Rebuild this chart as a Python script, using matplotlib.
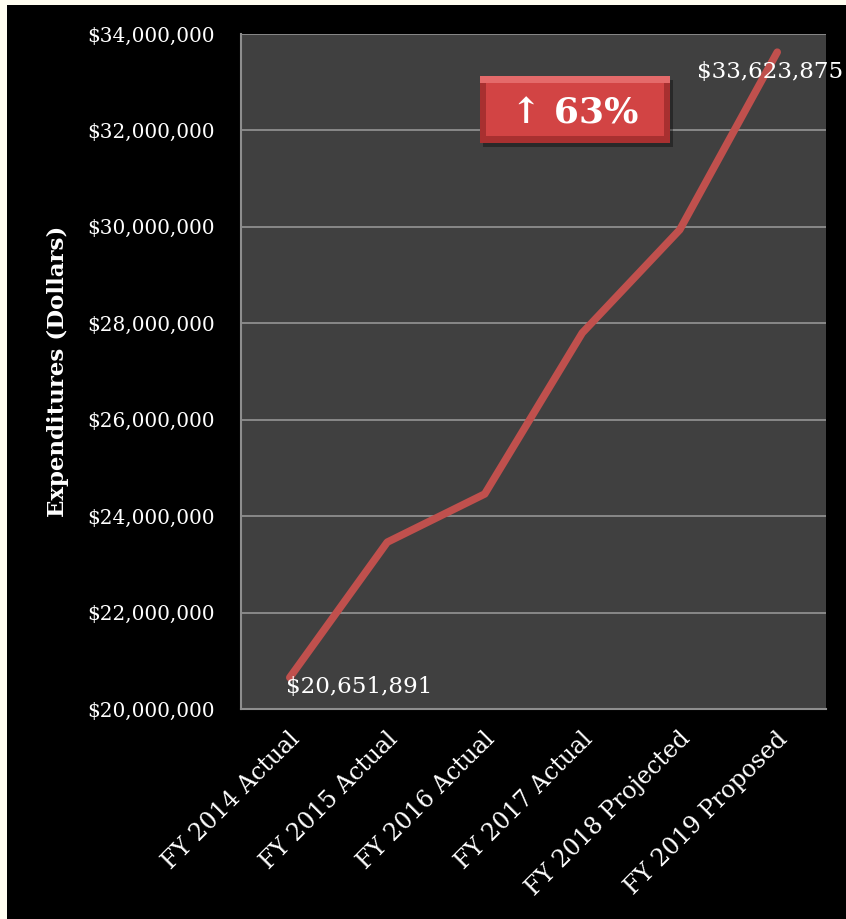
import matplotlib.pyplot as plt
from matplotlib.patches import Rectangle
from matplotlib.transforms import ScaledTranslation
from matplotlib.ticker import FuncFormatter

# spending by fiscal year
years = ["FY 2014 Actual", "FY 2015 Actual", "FY 2016 Actual",
         "FY 2017 Actual", "FY 2018 Projected", "FY 2019 Proposed"]
spend = [20651891, 23460000, 24460000, 27800000, 29940000, 33623875]
y_ticks = [20000000, 22000000, 24000000, 26000000, 28000000, 30000000, 32000000, 34000000]
badge_text = "\u2191 63%"

SERIF = ["DejaVu Serif"]


def main():
    fig = plt.figure(figsize=(8.46, 9.19), dpi=100, facecolor="#fffdf0")
    # black slide background with a thin cream margin top/left
    fig.patches.append(Rectangle((7 / 846, 0), 1 - 7 / 846, 1 - 5 / 919,
                                 transform=fig.transFigure, facecolor="black",
                                 edgecolor="none", zorder=-10))

    ax = fig.add_axes([241 / 846, 1 - 709 / 919, 585 / 846, 675 / 919])
    ax.set_facecolor("#404040")

    x = list(range(len(years)))
    ax.plot(x, spend, color="#c0504d", lw=5.4, solid_capstyle="round", zorder=3)

    ax.set_xlim(-0.5, len(years) - 0.5)
    ax.set_ylim(y_ticks[0], y_ticks[-1])
    ax.set_yticks(y_ticks)
    ax.yaxis.set_major_formatter(FuncFormatter(lambda v, p: f"${v:,.0f}"))
    ax.grid(axis="y", color="#8e8e8e", lw=1.3)
    ax.set_axisbelow(True)

    for side in ["top", "right"]:
        ax.spines[side].set_visible(False)
    for side in ["left", "bottom"]:
        ax.spines[side].set_color("#8e8e8e")
        ax.spines[side].set_linewidth(1.5)

    ax.tick_params(axis="y", length=0, pad=19, labelcolor="white", labelsize=14.4)
    ax.tick_params(axis="x", length=0, pad=19, labelcolor="white", labelsize=17)
    for lab in ax.get_yticklabels():
        lab.set_family(SERIF)

    ax.set_xticks(x)
    ax.set_xticklabels(years, rotation=45, ha="right", va="center",
                       rotation_mode="anchor", family=SERIF)
    shift = ScaledTranslation(5 / 72, 0, fig.dpi_scale_trans)
    for lab in ax.get_xticklabels():
        lab.set_transform(lab.get_transform() + shift)

    ax.set_ylabel("Expenditures (Dollars)", color="white", fontsize=16.5,
                  fontweight="bold", family=SERIF)
    ax.yaxis.set_label_coords(-0.294, 0.5)

    # data labels for first and last points
    ax.annotate(f"${spend[0]:,}", (x[0], spend[0]), xytext=(-4, -9),
                textcoords="offset pixels", ha="left", va="center",
                color="white", fontsize=16.6, family=SERIF, zorder=4)
    ax.annotate(f"${spend[-1]:,}", (x[-1], spend[-1]), xytext=(-80, -20),
                textcoords="offset pixels", ha="left", va="center",
                color="white", fontsize=16.6, family=SERIF, zorder=4,
                annotation_clip=False)

    # red bevelled badge
    bx0, bx1, by0, by1 = 480 / 846, 670 / 846, 1 - 143 / 919, 1 - 76 / 919
    bw, bh = bx1 - bx0, by1 - by0
    px, py = 1 / 846, 1 / 919
    fig.patches.append(Rectangle((bx0 + 3 * px, by0 - 4 * py), bw, bh,
                                 transform=fig.transFigure, facecolor="black",
                                 alpha=0.35, edgecolor="none", zorder=5))
    fig.patches.append(Rectangle((bx0, by0), bw, bh, transform=fig.transFigure,
                                 facecolor="#a83030", edgecolor="none", zorder=6))
    fig.patches.append(Rectangle((bx0, by1 - 7 * py), bw, 7 * py,
                                 transform=fig.transFigure, facecolor="#e46a6a",
                                 edgecolor="none", zorder=6))
    fig.patches.append(Rectangle((bx0 + 6 * px, by0 + 7 * py), bw - 12 * px, bh - 14 * py,
                                 transform=fig.transFigure, facecolor="#d24444",
                                 edgecolor="none", zorder=7))
    fig.text(bx0 + bw / 2, by0 + bh / 2 - 4 * py, badge_text, ha="center", va="center",
             color="white", fontsize=26, fontweight="bold", family=SERIF, zorder=8)

    fig.savefig("out.png", dpi=100, facecolor=fig.get_facecolor())


if __name__ == "__main__":
    main()
